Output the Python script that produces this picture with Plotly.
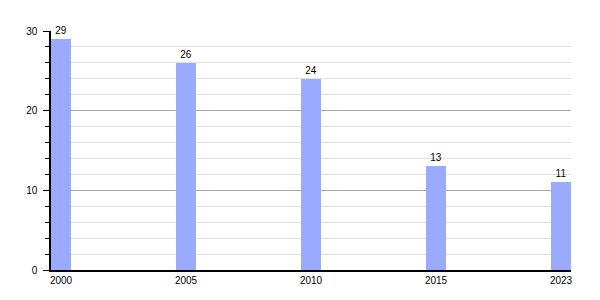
import plotly.graph_objects as go

years = ["2000", "2005", "2010", "2015", "2023"]
values = [29, 26, 24, 13, 11]

fig = go.Figure(go.Bar(
    x=years, y=values, width=0.16,
    marker=dict(color="#99aaff", line=dict(width=0)),
    text=[str(v) for v in values], textposition="outside",
    textfont=dict(size=10, color="#000"), cliponaxis=False,
))

fig.update_layout(
    width=600, height=300,
    margin=dict(l=51, r=29, t=31, b=30),
    paper_bgcolor="white", plot_bgcolor="white",
    font=dict(family="Liberation Sans, Arial, sans-serif", size=10, color="#000"),
    showlegend=False, bargap=0,
)
fig.update_xaxes(
    type="category", range=[-0.08, 4.08],
    showline=True, linecolor="#000", linewidth=1.5,
    showgrid=False, ticks="", zeroline=False,
)
fig.update_yaxes(
    range=[0, 30], tickvals=[0, 10, 20, 30],
    showline=True, linecolor="#000", linewidth=1.5,
    showgrid=True, gridcolor="#a8a8a8", gridwidth=1,
    ticks="outside", ticklen=6, tickcolor="#000", ticklabelstandoff=4,
    zeroline=False,
    minor=dict(dtick=2, tick0=0, showgrid=True, gridcolor="#e2e2e2", gridwidth=1,
               ticks="outside", ticklen=4, tickcolor="#000"),
)

fig.write_html("out.html")
